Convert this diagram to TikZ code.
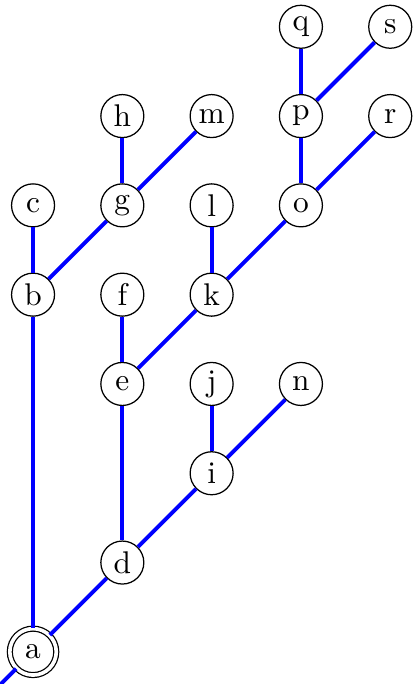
\documentclass[tikz,border=0pt]{standalone}
\usepackage{tikz}
\usetikzlibrary{positioning}

\begin{document}
\begin{tikzpicture}[
    vertex/.style={draw, circle, fill=white, minimum size=13.7pt, inner sep=0pt, line width=0.4pt},
    rootvertex/.style={vertex, double, double distance=1.16pt, minimum size=14.8pt},
    branch/.style={draw=blue, line width=1.25pt},
    node distance=1cm and 1cm, on grid
]

\clip (-0.37,-0.36) rectangle (4.28,7.30);

% Root
\node[rootvertex] (a) at (0,0) {a};
\coordinate (stem) at (-1,-1);

% Diagonal spine from the root
\node[vertex, above right=of a] (d) {d};
\node[vertex, above right=of d] (i) {i};
\node[vertex, above right=of i] (n) {n};
\node[vertex, above=of i] (j) {j};

% Branch through e
\node[vertex, above=2cm of d] (e) {e};
\node[vertex, above=of e] (f) {f};
\node[vertex, above right=of e] (k) {k};
\node[vertex, above=of k] (l) {l};
\node[vertex, above right=of k] (o) {o};
\node[vertex, above right=of o] (r) {r};
\node[vertex, above=of o] (p) {p};
\node[vertex, above=of p] (q) {q};
\node[vertex, above right=of p] (s) {s};

% Branch through b
\node[vertex, above=4cm of a] (b) {b};
\node[vertex, above=of b] (c) {c};
\node[vertex, above right=of b] (g) {g};
\node[vertex, above=of g] (h) {h};
\node[vertex, above right=of g] (m) {m};

% Connectors
\draw[branch] (stem) -- (a);
\draw[branch] (a) -- (b);
\draw[branch] (a) -- (d);
\draw[branch] (d) -- (e);
\draw[branch] (d) -- (i);
\draw[branch] (i) -- (j);
\draw[branch] (i) -- (n);
\draw[branch] (e) -- (f);
\draw[branch] (e) -- (k);
\draw[branch] (k) -- (l);
\draw[branch] (k) -- (o);
\draw[branch] (o) -- (p);
\draw[branch] (o) -- (r);
\draw[branch] (p) -- (q);
\draw[branch] (p) -- (s);
\draw[branch] (b) -- (c);
\draw[branch] (b) -- (g);
\draw[branch] (g) -- (h);
\draw[branch] (g) -- (m);

\end{tikzpicture}
\end{document}
